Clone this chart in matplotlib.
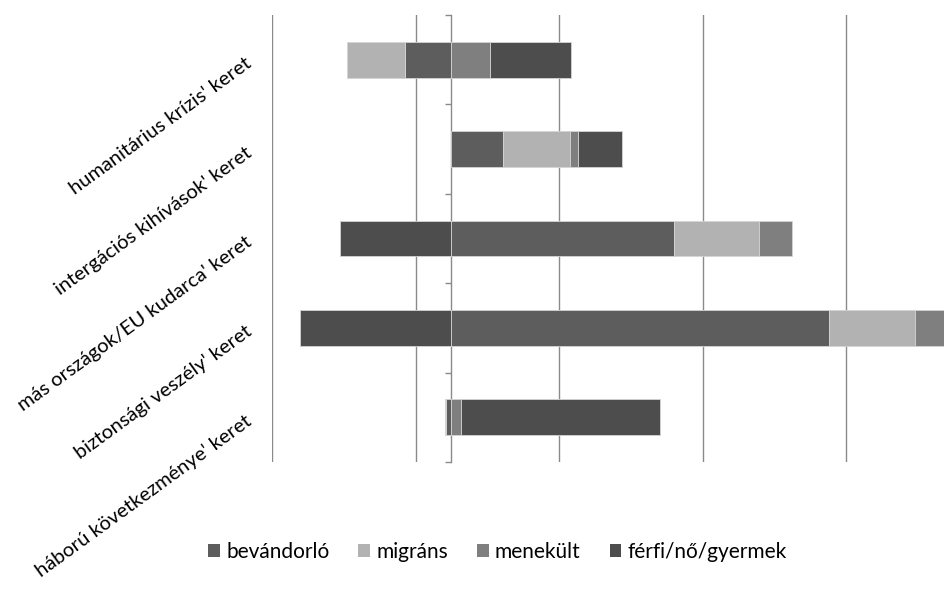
import matplotlib
matplotlib.use("Agg")
import matplotlib.pyplot as plt
import numpy as np
from matplotlib.patches import Patch
from matplotlib.transforms import blended_transform_factory

plt.rcParams['font.family'] = ['Lato', 'DejaVu Sans']

categories = ["humanitárius krízis' keret",
              "intergációs kihívások' keret",
              "más országok/EU kudarca' keret",
              "biztonsági veszély' keret",
              "háború következménye' keret"]
series_names = ["bevándorló", "migráns", "menekült", "férfi/nő/gyermek"]
bevandorlo = [-3.2, 3.57, 15.5, 26.3, -0.35]
migrans = [-4.1, 4.72, 5.97, 5.99, -0.12]
menekult = [2.72, 0.53, 2.25, 2.6, 0.70]
ferfi = [5.6, 3.07, -7.78, -10.52, 13.82]
colors = ["#5d5d5d", "#b2b2b2", "#7f7f7f", "#4d4d4d"]

W, H = 944, 591
fig = plt.figure(figsize=(W / 100, H / 100), dpi=100)
left_px, right_px, top_px, bot_px = 272, 989.5, 15, 462
ax = fig.add_axes([left_px / W, 1 - bot_px / H, (right_px - left_px) / W, (bot_px - top_px) / H])

y = np.arange(len(categories))
pos_base = np.zeros(len(categories))
neg_base = np.zeros(len(categories))
for vals, col, name in zip([bevandorlo, migrans, menekult, ferfi], colors, series_names):
    v = np.array(vals, dtype=float)
    lefts = np.where(v >= 0, pos_base, neg_base)
    ax.barh(y, v, left=lefts, height=0.4, color=col, edgecolor="#d4d4d4",
            linewidth=0.6, zorder=3, label=name)
    pos_base = pos_base + np.where(v >= 0, v, 0)
    neg_base = neg_base + np.where(v < 0, v, 0)

ax.set_xlim(-12.5, 37.5)
ax.set_ylim(4.5, -0.5)
ax.set_xticks([-12.5, -2.5, 7.5, 17.5, 27.5, 37.5])
ax.xaxis.grid(True, color="#8a8a8a", linewidth=1.0, zorder=0)
ax.set_axisbelow(True)
ax.tick_params(axis='x', length=0, labelbottom=False)

for s in ["top", "right", "bottom"]:
    ax.spines[s].set_visible(False)
ax.spines["left"].set_position(("data", 0))
ax.spines["left"].set_color("#8a8a8a")
ax.spines["left"].set_linewidth(1.0)
ax.set_yticks(np.arange(-0.5, len(categories), 1.0))
ax.set_yticklabels([])
ax.tick_params(axis='y', direction='out', length=4.5, width=1.0, color="#8a8a8a")

trans = blended_transform_factory(ax.transAxes, ax.transData)
for i, lab in enumerate(categories):
    ax.text(-0.031, i + 0.02, lab, transform=trans, rotation=36, ha='right', va='center',
            rotation_mode='anchor', fontsize=14.5, color="#000000")

handles = [Patch(facecolor=c, edgecolor='none') for c in colors]
fig.legend(handles, series_names, loc='center', bbox_to_anchor=(497.5 / W, 1 - 552 / H),
           ncol=4, frameon=False, fontsize=15, handlelength=0.55, handleheight=0.55,
           handletextpad=0.3, columnspacing=1.4)

fig.savefig("out.png", dpi=100)
